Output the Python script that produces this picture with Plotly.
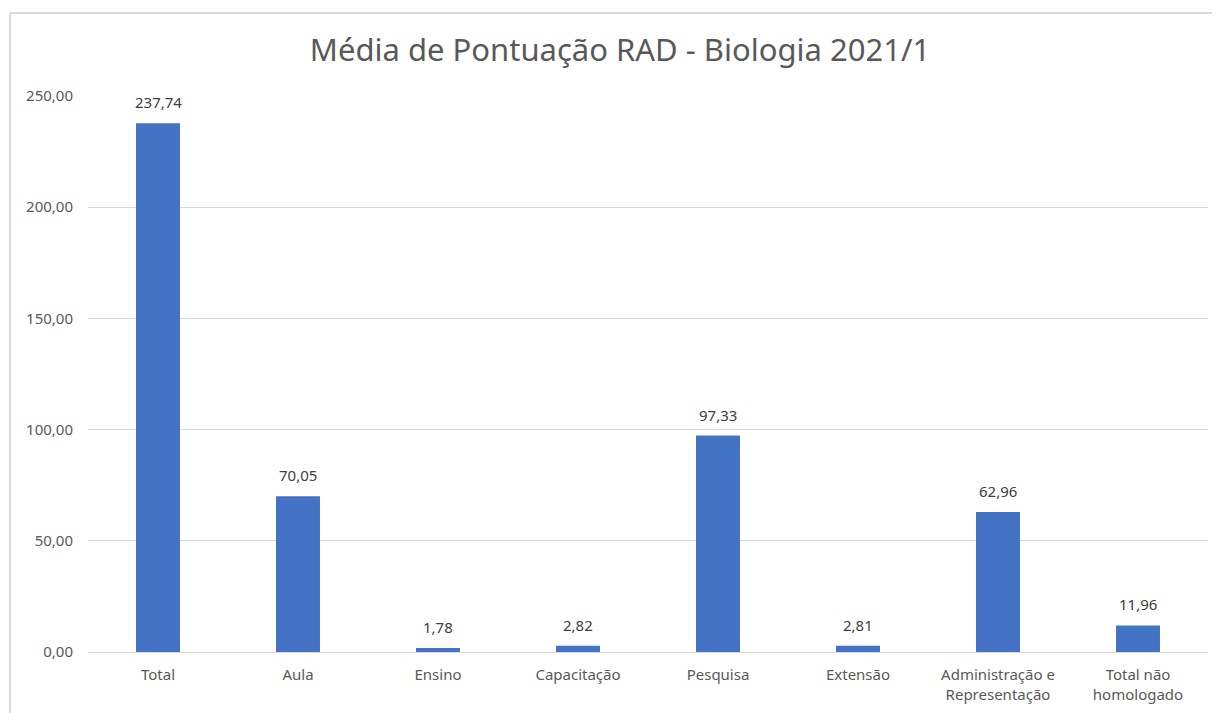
import plotly.graph_objects as go

categorias = ["Total", "Aula", "Ensino", "Capacitação", "Pesquisa", "Extensão",
              "Administração e<br>Representação", "Total não<br>homologado"]
medias = [237.74, 70.05, 1.78, 2.82, 97.33, 2.81, 62.96, 11.96]
y_ticks = [0, 50, 100, 150, 200, 250]

W, H = 1220, 713
M_L, M_R, M_T, M_B = 80, 20, 88, 69
plot_w = W - M_L - M_R
plot_h = H - M_T - M_B

fig = go.Figure()
fig.add_trace(
    go.Bar(
        x=categorias,
        y=medias,
        marker=dict(color='#4472C4', line=dict(width=0)),
        hoverinfo='skip'
    )
)

# rótulos de dados acima das barras
for cat, val in zip(categorias, medias):
    fig.add_annotation(x=cat, y=val, text=f'{val:.2f}'.replace('.', ','),
                       showarrow=False, yanchor='bottom', yshift=9,
                       font=dict(size=15, color='#404040'))

# moldura do gráfico (esquerda e topo), em px da figura
fx = (2 - M_L) / plot_w
fy = 1 + (M_T - 5) / plot_h

fig.update_layout(
    width=W, height=H,
    separators=',.',
    font=dict(family='Noto Sans, Open Sans, sans-serif', color='#595959', size=15),
    title=dict(text='Média de Pontuação RAD - Biologia 2021/1',
               x=(620 - 8) / W, xanchor='center', y=1 - 42 / H, yanchor='middle',
               font=dict(size=31, color='#595959')),
    margin=dict(l=M_L, r=M_R, t=M_T, b=M_B, autoexpand=False),
    paper_bgcolor='white', plot_bgcolor='white',
    bargap=0.686,
    showlegend=False,
    xaxis=dict(showgrid=False, showline=False,
               ticks='outside', ticklen=9, tickcolor='rgba(0,0,0,0)',
               tickfont=dict(size=15, color='#595959')),
    yaxis=dict(range=[0, 250], tickvals=y_ticks, tickformat='.2f',
               showgrid=True, gridcolor='#D9D9D9', gridwidth=1,
               zeroline=True, zerolinecolor='#D9D9D9', zerolinewidth=1,
               ticks='outside', ticklen=11, tickcolor='rgba(0,0,0,0)',
               tickfont=dict(size=15, color='#595959')),
    shapes=[
        dict(type='line', xref='paper', yref='paper',
             x0=fx, x1=1.05, y0=fy, y1=fy,
             line=dict(color='#D9D9D9', width=2)),
        dict(type='line', xref='paper', yref='paper',
             x0=fx, x1=fx, y0=fy, y1=-0.2,
             line=dict(color='#D9D9D9', width=2)),
    ]
)

fig.write_html("out.html")
